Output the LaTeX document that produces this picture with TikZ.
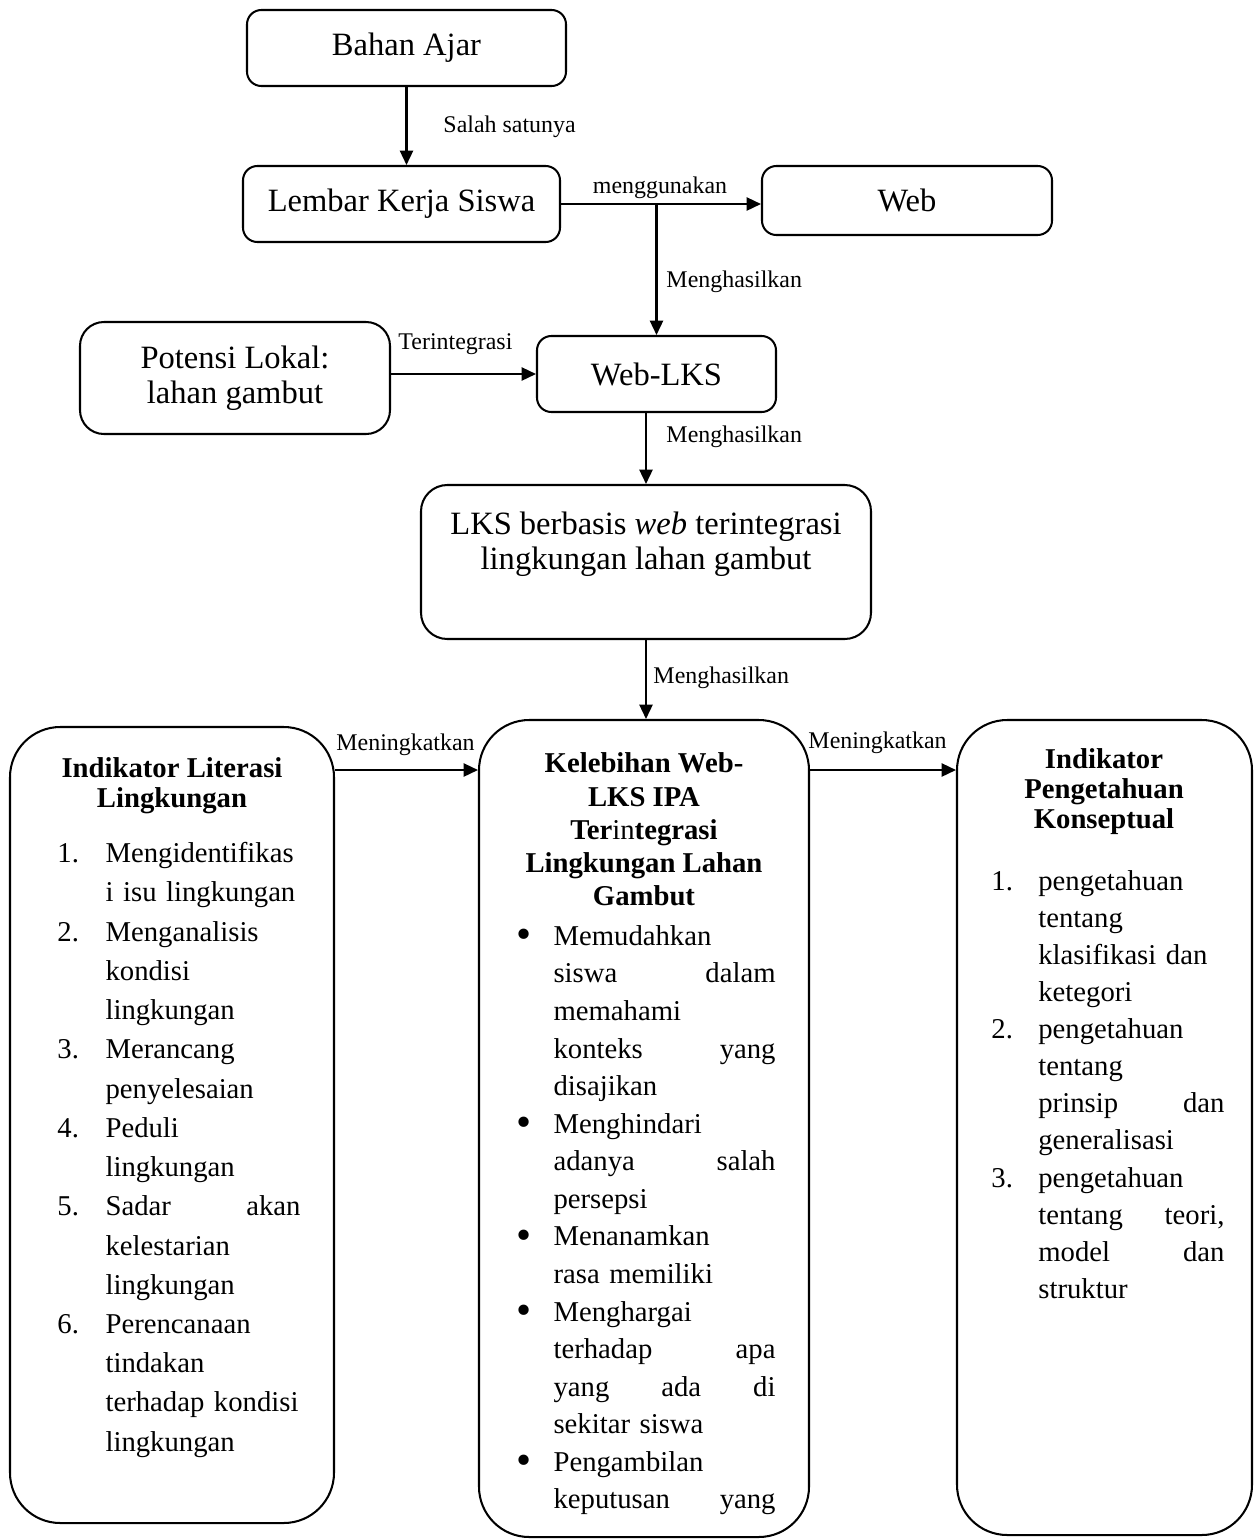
\documentclass[tikz,border=0pt]{standalone}
\usepackage{fontspec}
\setmainfont{Liberation Serif}
\usetikzlibrary{arrows.meta,positioning}
\newcommand{\pxu}{0.418pt}
\newlength{\indw}
\newcommand{\lsnum}[1]{\makebox[\indw][l]{#1}}
\newcommand{\lsgap}{\hspace*{\indw}}
\newcommand{\lsdot}{\raisebox{-0.25ex}{\scalebox{1.5}{\textbullet}}}
\tikzset{
  box/.style={draw, line width=0.85pt, rounded corners=6pt, inner sep=0pt, align=center,
    font=\fontsize{13.6}{14.6}\selectfont},
  bigbox/.style={draw, line width=0.85pt, rounded corners=21pt, inner sep=0pt},
  lbl/.style={font=\fontsize{10}{12}\selectfont, inner sep=0pt, anchor=base west},
  arr/.style={-{Triangle[length=6pt,width=5.5pt]}, line width=0.85pt},
  ttl/.style={align=center, inner sep=0pt, anchor=north},
  lst/.style={align=left, inner sep=0pt, anchor=north west},
}

\begin{document}
\begin{tikzpicture}[x=\pxu, y=-\pxu]
  \useasboundingbox (0,0) rectangle (1255,1539);

  % upper boxes
  \node[box, minimum width=319*\pxu, minimum height=76*\pxu] (bahan) at (406.5,48) {Bahan Ajar};
  \node[box, minimum width=317*\pxu, minimum height=76*\pxu] (lembar) at (401.5,204) {Lembar Kerja Siswa};
  \node[box, minimum width=290*\pxu, minimum height=69*\pxu] (web) at (907,200.5) {Web};
  \node[box, rounded corners=10pt, minimum width=310*\pxu, minimum height=112*\pxu] (potensi) at (235,378)
    {Potensi Lokal:\\lahan gambut};
  \node[box, minimum width=239*\pxu, minimum height=76*\pxu] (weblks) at (656.5,374) {Web-LKS};
  \node[box, rounded corners=11pt, minimum width=450*\pxu, minimum height=154*\pxu] (lks) at (646,562) {};
  \node[box, draw=none, anchor=north] (lkstxt) at (646,511)
    {LKS berbasis \textit{web} terintegrasi\\lingkungan lahan gambut};

  \draw[arr] (bahan.south) -- (bahan.south |- lembar.north);
  \draw[arr] (lembar.east) -- (lembar.east -| web.west);
  \coordinate (split) at (weblks.north |- lembar.east);
  \draw[arr] (split) -- (weblks.north);
  \draw[arr] (potensi.east |- weblks.west) -- (weblks.west);
  \draw[arr] (lks.north |- weblks.south) -- (lks.north);

  \node[lbl] (lsalah) at (443,132) {Salah satunya};
  \node[lbl, anchor=base] (lguna) at (660,193) {menggunakan};
  \node[lbl] (lhasila) at (666,287) {Menghasilkan};
  \node[lbl] (lintegr) at (398,349) {Terintegrasi};
  \node[lbl] (lhasilb) at (666,442) {Menghasilkan};

  % lower boxes
  \node[bigbox, minimum width=324*\pxu, minimum height=796*\pxu] (left) at (172,1125) {};
  \node[bigbox, minimum width=330*\pxu, minimum height=817*\pxu] (mid) at (644,1128.5) {};
  \node[bigbox, minimum width=295*\pxu, minimum height=815*\pxu] (right) at (1104.5,1127.5) {};

  \draw[arr] (lks.south) -- (lks.south |- mid.north);
  \coordinate (lvl) at (0,770);
  \draw[arr] (left.east |- lvl) -- (mid.west |- lvl);
  \draw[arr] (mid.east |- lvl) -- (right.west |- lvl);

  \node[lbl] (lhasilc) at (653,683) {Menghasilkan};
  \node[lbl] (ltingkata) at (336,750) {Meningkatkan};
  \node[lbl] (ltingkatb) at (808,748) {Meningkatkan};

  \node[ttl, font=\bfseries\fontsize{12}{12.5}\selectfont] (lefttl) at (172,757.5)
    {Indikator Literasi\\Lingkungan};
  \node[ttl, font=\bfseries\fontsize{12}{13.9}\selectfont] (midttl) at (644,752.5)
    {Kelebihan Web-\\LKS IPA\\Ter\textmd{in}tegrasi\\Lingkungan Lahan\\Gambut};
  \node[ttl, font=\bfseries\fontsize{12}{12.5}\selectfont] (righttl) at (1104,748.5)
    {Indikator\\Pengetahuan\\Konseptual};

  \node[lst, text width=101.6pt,
    font=\fontsize{12}{16.4}\selectfont\setlength\parindent{0pt}\setlength\indw{20.1pt}] (leftls) at (57,842)
    {\lsnum{1.}Mengidentifikas\\
     \lsgap i isu lingkungan\\
     \lsnum{2.}Menganalisis\\
     \lsgap kondisi\\
     \lsgap lingkungan\\
     \lsnum{3.}Merancang\\
     \lsgap penyelesaian\\
     \lsnum{4.}Peduli\\
     \lsgap lingkungan\\
     \lsnum{5.}Sadar\hfill akan\\
     \lsgap kelestarian\\
     \lsgap lingkungan\\
     \lsnum{6.}Perencanaan\\
     \lsgap tindakan\\
     \lsgap terhadap kondisi\\
     \lsgap lingkungan};

  \node[lst, text width=108.3pt,
    font=\fontsize{12}{15.7}\selectfont\setlength\parindent{0pt}\setlength\indw{15.5pt}] (midls) at (516,925)
    {\lsnum{\lsdot}Memudahkan\\
     \lsgap siswa\hfill dalam\\
     \lsgap memahami\\
     \lsgap konteks\hfill yang\\
     \lsgap disajikan\\
     \lsnum{\lsdot}Menghindari\\
     \lsgap adanya\hfill salah\\
     \lsgap persepsi\\
     \lsnum{\lsdot}Menanamkan\\
     \lsgap rasa memiliki\\
     \lsnum{\lsdot}Menghargai\\
     \lsgap terhadap\hfill apa\\
     \lsgap yang\hfill ada\hfill di\\
     \lsgap sekitar siswa\\
     \lsnum{\lsdot}Pengambilan\\
     \lsgap keputusan\hfill yang};

  \node[lst, text width=97.4pt,
    font=\fontsize{12}{15.5}\selectfont\setlength\parindent{0pt}\setlength\indw{19.6pt}] (rightls) at (991,870)
    {\lsnum{1.}pengetahuan\\
     \lsgap tentang\\
     \lsgap klasifikasi dan\\
     \lsgap ketegori\\
     \lsnum{2.}pengetahuan\\
     \lsgap tentang\\
     \lsgap prinsip\hfill dan\\
     \lsgap generalisasi\\
     \lsnum{3.}pengetahuan\\
     \lsgap tentang\hfill teori,\\
     \lsgap model\hfill dan\\
     \lsgap struktur};
\end{tikzpicture}
\end{document}
